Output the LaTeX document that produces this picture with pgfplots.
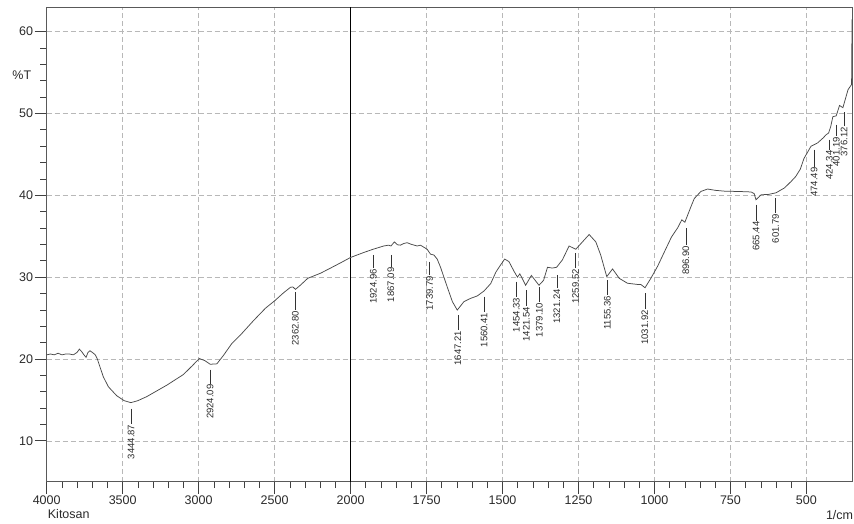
\documentclass[border=0pt]{standalone}
\usepackage{pgfplots}
\usepackage{pgfplotstable}
\pgfplotsset{compat=1.18}
\usepackage{fontspec}
\setmainfont{Liberation Sans}

\pgfplotstableread{
wn T
4000 20.5
3975 20.6
3950 20.5
3925 20.7
3900 20.5
3875 20.6
3850 20.6
3825 20.5
3800 20.8
3785 21.2
3770 20.9
3755 20.5
3741 20.2
3728 20.8
3715 21.0
3693 20.7
3680 20.5
3667 20.0
3649 19.0
3627 17.8
3594 16.6
3539 15.5
3490 14.9
3446 14.66
3400 14.9
3341 15.4
3209 16.8
3100 18.1
3040 19.2
2996 20.05
2960 19.8
2924 19.35
2880 19.4
2836 20.45
2781 21.9
2726 22.9
2638 24.7
2560 26.2
2500 27.1
2440 28.1
2396 28.75
2380 28.8
2363 28.5
2331 29.0
2282 29.85
2198 30.47
2132 31.1
2060 31.8
2000 32.4
1957 33.0
1926 33.4
1891 33.8
1875 33.9
1867 33.8
1856 34.3
1846 33.95
1836 33.9
1825 34.1
1814 34.2
1800 34.0
1781 33.8
1770 33.9
1759 33.65
1748 33.4
1737 32.8
1726 32.7
1715 32.2
1704 31.2
1682 28.8
1665 27.0
1649 25.97
1627 27.0
1605 27.4
1583 27.7
1561 28.3
1539 29.2
1522 30.6
1506 31.5
1493 32.2
1479 31.9
1462 30.7
1451 30.0
1443 30.4
1424 29.0
1405 30.2
1380 29.0
1365 29.6
1352 31.2
1336 31.1
1322 31.2
1303 32.1
1281 33.8
1259 33.4
1237 34.3
1215 35.2
1193 34.3
1177 32.7
1157 30.05
1138 31.0
1116 29.85
1089 29.25
1056 29.1
1045 29.1
1031 28.7
1012 29.85
990 31.3
962 33.5
944 34.9
924 36.0
910 37.0
900 36.7
880 38.6
869 39.6
847 40.47
825 40.76
800 40.6
770 40.5
715 40.45
682 40.4
672 40.2
666 39.45
649 40.06
625 40.1
600 40.3
572 40.9
550 41.7
535 42.3
520 43.2
508 44.5
485 45.98
463 46.4
445 47.0
435 47.4
427 47.6
420 48.4
413 49.6
402 49.7
391 50.97
380 50.7
363 52.9
352 53.5
351 54.5
350 61.5
}\spectrum

\pgfplotstableread{
wn top bot lab
3444.87 13.92 12.08 3444.87
2924.09 18.70 16.99 2924.09
2362.80 28.17 25.97 2362.80
1924.96 32.71 31.08 1924.96
1867.09 32.71 31.27 1867.09
1739.79 31.89 30.26 1739.79
1647.21 25.36 23.52 1647.21
1560.41 27.60 25.76 1560.41
1454.33 29.44 27.60 1454.33
1421.54 28.42 26.46 1421.54
1379.10 28.75 26.99 1379.10
1321.24 30.26 28.63 1321.24
1259.52 32.92 31.08 1259.52
1155.36 29.64 27.81 1155.36
1031.92 28.01 26.05 1031.92
896.90 35.98 33.93 896.90
665.44 38.84 36.91 665.44
601.79 39.66 37.82 601.79
474.49 45.58 43.49 474.49
424.34 46.80 45.58 424.34
401.19 48.64 47.21 401.19
376.12 50.11 48.43 376.12
}\peaks

\definecolor{curve}{HTML}{4A4A4A}
\definecolor{gridc}{HTML}{B8B8B8}
\definecolor{txt}{HTML}{2A2A2A}

\begin{document}
\begin{tikzpicture}
\path[use as bounding box] (-46.7pt,-42.3pt) rectangle (807.3pt,481.7pt);
\begin{axis}[
  scale only axis,
  width=805.3pt, height=474.7pt,
  xmin=0, xmax=5300,
  ymin=5, ymax=63,
  xtick={0,500,...,5000},
  xticklabels={4000,3500,3000,2500,2000,1750,1500,1250,1000,750,500},
  minor x tick num=4,
  ytick={10,20,...,60},
  minor y tick num=4,
  xtick pos=bottom, ytick pos=left,
  tick align=outside,
  major tick length=12pt,
  minor tick length=6.5pt,
  tick style={black!75, line width=0.6pt},
  axis line style={black!65, line width=0.8pt},
  grid=major,
  major grid style={gridc, dash pattern=on 5pt off 3pt, line width=0.5pt},
  /pgf/number format/assume math mode=true,
  ticklabel style={font=\fontsize{12.5}{15}\selectfont, text=txt, inner sep=1.5pt},
  clip=false,
]
\addplot[black, line width=0.7pt] coordinates {(2000,5) (2000,63)};
\addplot[curve, line width=0.75pt, mark=none]
  table[x expr={\thisrow{wn}>=2000 ? 4000-\thisrow{wn} : 6000-2*\thisrow{wn}}, y=T] {\spectrum};
\addplot[draw=none, mark=none,
  error bars/.cd, y dir=minus, y explicit,
  error mark=none, error bar style={black!80, line width=0.55pt, solid}]
  table[x expr={\thisrow{wn}>=2000 ? 4000-\thisrow{wn} : 6000-2*\thisrow{wn}}, y=top,
        y error expr={\thisrow{top}-\thisrow{bot}}] {\peaks};
\addplot[draw=none, mark=none, point meta=explicit symbolic,
  nodes near coords,
  nodes near coords style={rotate=90, anchor=east, inner sep=0.8pt,
    font=\fontsize{9.5}{11}\selectfont, text=txt}]
  table[x expr={\thisrow{wn}>=2000 ? 4000-\thisrow{wn} : 6000-2*\thisrow{wn}}, y=bot, meta=lab] {\peaks};
\end{axis}
\node[anchor=west, text=txt, font=\fontsize{12.5}{15}\selectfont, inner sep=0pt] at (-34.4pt,406.7pt) {\%T};
\node[anchor=west, text=txt, font=\fontsize{12.5}{15}\selectfont, inner sep=0pt] at (1pt,-32.3pt) {Kitosan};
\node[anchor=east, text=txt, font=\fontsize{12.5}{15}\selectfont, inner sep=0pt] at (806.6pt,-33.3pt) {1/cm};
\end{tikzpicture}
\end{document}
